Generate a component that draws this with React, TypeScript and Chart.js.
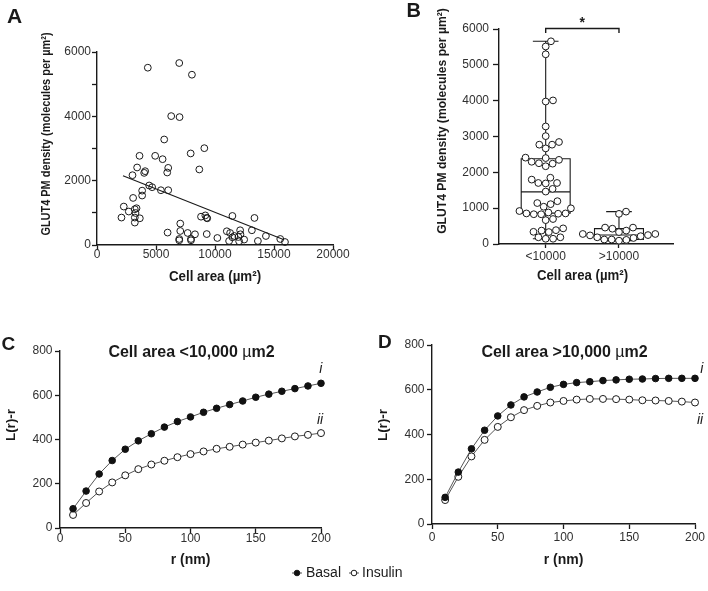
import React, { useEffect, useRef } from 'react';
import { Chart, registerables } from 'chart.js';

Chart.register(...registerables);

const W = 708;
const H = 591;
const FONT = '"Liberation Sans", Arial, Helvetica, sans-serif';
const INK = '#1a1a1a';
const TICK_INK = '#303030';

// ---------------- Panel A : scatter + linear fit ----------------
const cellAreaA = [
  4306, 6969, 8045, 6289, 6997, 5695, 9095, 7939, 3604, 4930,
  5559, 3400, 6035, 8670, 4080, 4000, 5950, 3009, 4420, 4675,
  5415, 6035, 3825, 3825, 3060, 2270, 3350, 3205, 2694, 3263,
  2074, 3205, 3630, 3205, 8815, 9180, 9300, 9340, 7056, 5983,
  7056, 7683, 8304, 9300, 6970, 6970, 7965, 7965,
  11475, 13345, 10200, 11000, 11280, 11645, 11475, 11195, 11985, 12130,
  12155, 12045, 12470, 13125, 13635, 14315, 15530, 15930,
];
const densityA = [
  5512, 5657, 5294, 4007, 3976, 3280, 3010, 2846, 2772, 2772,
  2668, 2410, 2398, 2348, 2295, 2242, 2254, 2170, 1850, 1797,
  1703, 1703, 1690, 1538, 1463, 1195, 1143, 1112, 1040, 996,
  853, 853, 831, 697, 880, 920, 845, 830, 666, 386,
  436, 374, 333, 340, 187, 146, 187, 146,
  903, 841, 218, 427, 374, 280, 240, 125, 249, 458,
  333, 115, 168, 458, 125, 280, 187, 93,
];
const fitLineX = [2200, 15850];
const fitLineY = [2150, 160];
const xTicksA = [0, 5000, 10000, 15000, 20000];

// ---------------- Panel B : box plot by cell area ----------------
const groupLabelsB = ['<10000', '>10000'];
const areaSplitB = 10000;
const boxMinB = [146, 93];
const boxQ1B = [862, 130];
const boxMedianB = [1455, 250];
const boxQ3B = [2380, 430];
const boxMaxB = [5657, 903];
const significanceB = '*';

// ---------------- Panels C / D : L(r)-r curves ----------------
const radiusNm = [10, 20, 30, 40, 50, 60, 70, 80, 90, 100, 110, 120, 130, 140, 150, 160, 170, 180, 190, 200];
const basalSmall = [87, 167, 244, 305, 356, 394, 426, 456, 481, 502, 523, 541, 558, 574, 591, 605, 618, 630, 642, 654];
const insulinSmall = [59, 113, 165, 206, 238, 266, 287, 304, 320, 334, 346, 358, 367, 377, 386, 395, 405, 414, 421, 429];
const basalLarge = [119, 232, 336, 419, 483, 532, 568, 590, 611, 624, 632, 636, 641, 644, 647, 648, 650, 651, 651, 651];
const insulinLarge = [107, 211, 302, 376, 434, 477, 509, 528, 543, 550, 556, 559, 559, 558, 556, 553, 552, 550, 547, 543];
const xTicksCD = [0, 50, 100, 150, 200];
const seriesNames = ['Basal', 'Insulin'];

// ---------------- layout ----------------
type Frame = { l: number; t: number; r: number; b: number };
const FA: Frame = { l: 97, t: 52, r: 333, b: 245 };
const FB: Frame = { l: 499, t: 29, r: 673, b: 244 };
const FC: Frame = { l: 60, t: 351, r: 321, b: 528 };
const FD: Frame = { l: 432, t: 345, r: 695, b: 524 };
const Y_BOX = 40;
const X_BOX = 30;
const B_XMIN = -0.637;
const B_XMAX = 1.737;

function layoutFor(f: Frame) {
  return { padding: { left: f.l - Y_BOX, top: f.t, right: W - f.r, bottom: H - f.b - X_BOX } };
}

function axis(o: {
  min: number; max: number; step?: number; horizontal: boolean; tickLen: number; pad: number;
  label: (v: number) => string; fixed?: number[]; size?: number;
}) {
  return {
    type: 'linear',
    min: o.min,
    max: o.max,
    position: o.horizontal ? 'bottom' : 'left',
    border: { display: true, color: INK, width: 1.4 },
    grid: {
      display: true, drawOnChartArea: false, drawTicks: true,
      tickLength: o.tickLen, tickColor: INK, tickWidth: 1.3,
    },
    ticks: {
      stepSize: o.step, padding: o.pad, color: TICK_INK, autoSkip: false, maxRotation: 0,
      font: { family: FONT, size: o.size ?? 12 },
      callback: (v: any) => o.label(Number(v)),
    },
    afterFit: (s: any) => { if (o.horizontal) s.height = X_BOX; else s.width = Y_BOX; },
    afterBuildTicks: o.fixed ? (s: any) => { s.ticks = o.fixed!.map((v) => ({ value: v })); } : undefined,
    title: { display: false },
  };
}

type Part = { text: string; font: string };
type TextItem = {
  text?: string; parts?: Part[]; x: number; y: number; font?: string; rotate?: number; sx?: number;
  align?: CanvasTextAlign; baseline?: CanvasTextBaseline; color?: string;
};

function drawTexts(ctx: CanvasRenderingContext2D, items: TextItem[]) {
  items.forEach((it) => {
    ctx.save();
    ctx.translate(it.x, it.y);
    if (it.rotate) ctx.rotate(it.rotate);
    if (it.sx) ctx.scale(it.sx, 1);
    ctx.fillStyle = it.color || INK;
    ctx.textBaseline = it.baseline || 'middle';
    if (it.parts) {
      let total = 0;
      it.parts.forEach((p) => { ctx.font = p.font; total += ctx.measureText(p.text).width; });
      let x = -total / 2;
      ctx.textAlign = 'left';
      it.parts.forEach((p) => { ctx.font = p.font; ctx.fillText(p.text, x, 0); x += ctx.measureText(p.text).width; });
    } else {
      ctx.font = it.font || `12px ${FONT}`;
      ctx.textAlign = it.align || 'center';
      ctx.fillText(it.text || '', 0, 0);
    }
    ctx.restore();
  });
}

function textPlugin(id: string, items: TextItem[]) {
  return { id, afterDraw: (c: any) => drawTexts(c.ctx, items) };
}

// beeswarm-style horizontal placement (pixels) for points of one group
function swarmOffsets(values: number[], pxPerValue: number, diam: number): number[] {
  const order = values.map((_, i) => i).sort((a, b) => values[a] - values[b]);
  const placed: { x: number; y: number }[] = [];
  const out = new Array(values.length).fill(0);
  for (const i of order) {
    const y = values[i] * pxPerValue;
    const cands = [0];
    for (const p of placed) {
      const dy = Math.abs(p.y - y);
      if (dy < diam) {
        const dx = Math.sqrt(diam * diam - dy * dy);
        cands.push(p.x + dx, p.x - dx);
      }
    }
    cands.sort((a, b) => Math.abs(a) - Math.abs(b));
    let chosen = 0;
    for (const c of cands) {
      if (placed.every((p) => (p.x - c) ** 2 + (p.y - y) ** 2 >= diam * diam - 0.01)) { chosen = c; break; }
    }
    placed.push({ x: chosen, y });
    out[i] = chosen;
  }
  return out;
}

const bold = (s: number) => `bold ${s}px ${FONT}`;
const plain = (s: number) => `${s}px ${FONT}`;
const italic = (s: number) => `italic ${s}px ${FONT}`;

// ---------------- configs ----------------
function configA() {
  const pts = cellAreaA.map((x, i) => ({ x, y: densityA[i] }));
  return {
    type: 'scatter',
    data: {
      datasets: [
        {
          type: 'line', data: fitLineX.map((x, i) => ({ x, y: fitLineY[i] })),
          borderColor: INK, borderWidth: 1.1, pointRadius: 0, fill: false, clip: false,
        },
        {
          data: pts, pointRadius: 3.4, borderWidth: 1, pointBorderColor: INK,
          pointBackgroundColor: 'rgba(0,0,0,0)', borderColor: INK, backgroundColor: 'rgba(0,0,0,0)', clip: false,
        },
      ],
    },
    options: {
      responsive: false, animation: false, events: [],
      layout: layoutFor(FA),
      plugins: { legend: { display: false }, tooltip: { enabled: false } },
      scales: {
        x: axis({ min: 0, max: 20000, horizontal: true, tickLen: 5, pad: -3, label: (v) => String(v), fixed: xTicksA }),
        y: axis({ min: 0, max: 6000, step: 1000, horizontal: false, tickLen: 5, pad: 1, label: (v) => (v % 2000 === 0 ? String(v) : '') }),
      },
    },
    plugins: [
      textPlugin('txtA', [
        { text: 'A', x: 7, y: 23, font: bold(21), align: 'left', baseline: 'alphabetic' },
        { text: 'GLUT4 PM density (molecules per µm²)', x: 46.5, y: 134, rotate: -Math.PI / 2, font: bold(13.5), sx: 0.81 },
        { text: 'Cell area (µm²)', x: 215, y: 280.5, font: bold(14.5), sx: 0.92, baseline: 'alphabetic' },
      ]),
    ],
  };
}

function configB() {
  const pxPerUnitX = (FB.r - FB.l) / (B_XMAX - B_XMIN);
  const pxPerValue = (FB.b - FB.t) / 6000;
  const groups = [
    densityA.filter((_, i) => cellAreaA[i] < areaSplitB),
    densityA.filter((_, i) => cellAreaA[i] >= areaSplitB),
  ];
  const datasets = groups.map((vals, g) => {
    const offs = swarmOffsets(vals, pxPerValue, 7.4);
    return {
      data: vals.map((v, i) => ({ x: g + offs[i] / pxPerUnitX, y: v })),
      pointRadius: 3.4, borderWidth: 1, pointBorderColor: INK, pointBackgroundColor: '#ffffff',
      borderColor: INK, backgroundColor: '#ffffff', clip: false,
    };
  });
  const boxPlugin = {
    id: 'boxB',
    beforeDatasetsDraw: (c: any) => {
      const ctx: CanvasRenderingContext2D = c.ctx;
      const xs = c.scales.x;
      const ys = c.scales.y;
      ctx.save();
      ctx.strokeStyle = INK;
      ctx.lineWidth = 1.1;
      groupLabelsB.forEach((_, g) => {
        const xc = xs.getPixelForValue(g);
        const hw = xs.getPixelForValue(g + 0.334) - xc;
        const cw = xs.getPixelForValue(g + 0.175) - xc;
        const yMin = ys.getPixelForValue(boxMinB[g]);
        const yQ1 = ys.getPixelForValue(boxQ1B[g]);
        const yMed = ys.getPixelForValue(boxMedianB[g]);
        const yQ3 = ys.getPixelForValue(boxQ3B[g]);
        const yMax = ys.getPixelForValue(boxMaxB[g]);
        ctx.beginPath();
        ctx.rect(xc - hw, yQ3, hw * 2, yQ1 - yQ3);
        ctx.moveTo(xc - hw, yMed); ctx.lineTo(xc + hw, yMed);
        ctx.moveTo(xc, yQ3); ctx.lineTo(xc, yMax);
        ctx.moveTo(xc, yQ1); ctx.lineTo(xc, yMin);
        ctx.moveTo(xc - cw, yMax); ctx.lineTo(xc + cw, yMax);
        ctx.moveTo(xc - cw, yMin); ctx.lineTo(xc + cw, yMin);
        ctx.stroke();
      });
      ctx.restore();
    },
    afterDatasetsDraw: (c: any) => {
      const ctx: CanvasRenderingContext2D = c.ctx;
      const xs = c.scales.x;
      const ys = c.scales.y;
      const x0 = xs.getPixelForValue(0);
      const x1 = xs.getPixelForValue(1);
      const yb = ys.getPixelForValue(6000) - 0.5;
      ctx.save();
      ctx.strokeStyle = INK;
      ctx.lineWidth = 1.4;
      ctx.beginPath();
      ctx.moveTo(x0, yb + 4.5); ctx.lineTo(x0, yb); ctx.lineTo(x1, yb); ctx.lineTo(x1, yb + 4.5);
      ctx.stroke();
      ctx.fillStyle = INK;
      ctx.font = bold(14);
      ctx.textAlign = 'center';
      ctx.textBaseline = 'alphabetic';
      ctx.fillText(significanceB, (x0 + x1) / 2, yb - 2);
      ctx.restore();
    },
  };
  return {
    type: 'scatter',
    data: { datasets },
    options: {
      responsive: false, animation: false, events: [],
      layout: layoutFor(FB),
      plugins: { legend: { display: false }, tooltip: { enabled: false } },
      scales: {
        x: axis({
          min: B_XMIN, max: B_XMAX, horizontal: true, tickLen: 4, pad: 1.2,
          label: (v) => groupLabelsB[Math.round(v)] ?? '', fixed: [0, 1],
        }),
        y: axis({ min: 0, max: 6000, step: 1000, horizontal: false, tickLen: 6, pad: 4, label: (v) => String(v) }),
      },
    },
    plugins: [
      boxPlugin,
      textPlugin('txtB', [
        { text: 'B', x: 406.5, y: 17.3, font: bold(20), align: 'left', baseline: 'alphabetic' },
        { text: 'GLUT4 PM density (molecules per µm²)', x: 442, y: 121, rotate: -Math.PI / 2, font: bold(13.5), sx: 0.9 },
        { text: 'Cell area (µm²)', x: 582.5, y: 279.5, font: bold(14.5), sx: 0.91, baseline: 'alphabetic' },
      ]),
    ],
  };
}

function curveConfig(f: Frame, basal: number[], insulin: number[], letter: string, title: string, items: TextItem[], withLegend: boolean, xPad: number) {
  const letterPos = letter === 'C' ? { x: 1.5, y: 350 } : { x: 378, y: 348.3 };
  const cx = (f.l + f.r) / 2;
  const extra: any[] = [];
  if (withLegend) {
    extra.push({
      id: 'legendCD',
      afterDraw: (c: any) => {
        const ctx: CanvasRenderingContext2D = c.ctx;
        const yL = 573;
        const entries = [
          { mx: 297, tx: 306, filled: true },
          { mx: 354, tx: 362, filled: false },
        ];
        ctx.save();
        entries.forEach((e, i) => {
          ctx.strokeStyle = '#555';
          ctx.lineWidth = 1;
          ctx.beginPath(); ctx.moveTo(e.mx - 5, yL); ctx.lineTo(e.mx + 5, yL); ctx.stroke();
          ctx.beginPath(); ctx.arc(e.mx, yL, 2.8, 0, Math.PI * 2);
          ctx.fillStyle = e.filled ? '#111' : '#fff';
          ctx.fill();
          ctx.strokeStyle = INK; ctx.stroke();
          ctx.fillStyle = INK;
          ctx.font = plain(14);
          ctx.textAlign = 'left';
          ctx.textBaseline = 'middle';
          ctx.fillText(seriesNames[i], e.tx, yL);
        });
        ctx.restore();
      },
    });
  }
  return {
    type: 'line',
    data: {
      datasets: [
        {
          label: seriesNames[0], data: radiusNm.map((x, i) => ({ x, y: basal[i] })),
          borderColor: '#555', borderWidth: 1, tension: 0, pointRadius: 3.3, pointBorderWidth: 1,
          pointBackgroundColor: '#111', pointBorderColor: '#111', fill: false, clip: false,
        },
        {
          label: seriesNames[1], data: radiusNm.map((x, i) => ({ x, y: insulin[i] })),
          borderColor: '#555', borderWidth: 1, tension: 0, pointRadius: 3.5, pointBorderWidth: 1,
          pointBackgroundColor: '#fff', pointBorderColor: INK, fill: false, clip: false,
        },
      ],
    },
    options: {
      responsive: false, animation: false, events: [],
      layout: layoutFor(f),
      plugins: { legend: { display: false }, tooltip: { enabled: false } },
      scales: {
        x: axis({ min: 0, max: 200, horizontal: true, tickLen: 5, pad: xPad, label: (v) => String(v), fixed: xTicksCD }),
        y: axis({ min: 0, max: 800, step: 200, horizontal: false, tickLen: 5, pad: 2.5, label: (v) => String(v) }),
      },
    },
    plugins: [
      ...extra,
      textPlugin('txt' + letter, [
        { text: letter, x: letterPos.x, y: letterPos.y, font: bold(19), align: 'left', baseline: 'alphabetic' },
        { parts: [{ text: title, font: bold(16) }, { text: 'µ', font: plain(16) }, { text: 'm2', font: bold(16) }], x: cx + 1, y: 357, baseline: 'alphabetic' },
        { text: 'L(r)-r', x: f.l - 48.5, y: 425, rotate: -Math.PI / 2, font: bold(13.5) },
        { text: 'r (nm)', x: cx, y: 560, font: bold(14) },
        ...items,
      ]),
    ],
  };
}

function PanelCanvas({ make }: { make: () => any }) {
  const ref = useRef<HTMLCanvasElement>(null);
  useEffect(() => {
    const chart = new Chart(ref.current as HTMLCanvasElement, make());
    return () => chart.destroy();
  }, []);
  return (
    <canvas
      ref={ref}
      width={W}
      height={H}
      style={{ position: 'absolute', left: 0, top: 0, width: W, height: H }}
    />
  );
}

export default function App() {
  return (
    <div style={{ position: 'fixed', left: 0, top: 0, width: W, height: H, background: '#ffffff', overflow: 'hidden' }}>
      <PanelCanvas make={configA} />
      <PanelCanvas make={configB} />
      <PanelCanvas
        make={() =>
          curveConfig(FC, basalSmall, insulinSmall, 'C', 'Cell area <10,000 ', [
            { text: 'i', x: 320.7, y: 369.3, font: italic(14) },
            { text: 'ii', x: 320, y: 420, font: italic(14) },
          ], false, -2)
        }
      />
      <PanelCanvas
        make={() =>
          curveConfig(FD, basalLarge, insulinLarge, 'D', 'Cell area >10,000 ', [
            { text: 'i', x: 701.7, y: 369.3, font: italic(14) },
            { text: 'ii', x: 700, y: 420, font: italic(14) },
          ], true, 1.8)
        }
      />
    </div>
  );
}
